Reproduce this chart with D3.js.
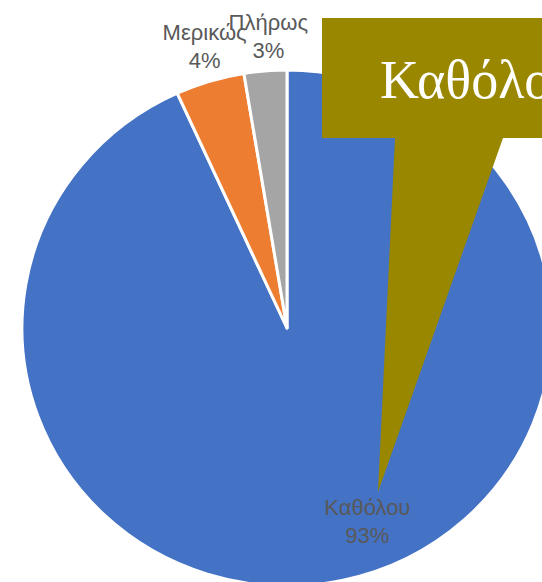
<!DOCTYPE html>
<html lang="el">
<head>
    <meta charset="UTF-8">
    <title>Pie</title>
    <script src="https://d3js.org/d3.v7.min.js"></script>
    <style>
        body { margin: 0; background: #fff; }
        svg { display: block; }
    </style>
</head>
<body>
<script>
    const width = 542;
    const height = 582;

    // data
    const categories = ["Καθόλου", "Μερικώς", "Πλήρως"];
    const values     = [93.2, 4.2, 2.6];
    const colors     = ["#4472C4", "#ED7D31", "#A5A5A5"];

    const cx = 287, cy = 328;
    const radius = 265;
    const squash = 258 / 265;   // picture is slightly flattened

    const svg = d3.select("body").append("svg")
            .attr("width", width).attr("height", height);

    const total = d3.sum(values);
    const slices = d3.pie().sort(null)(values);
    const arc = d3.arc().innerRadius(0).outerRadius(radius);

    const pieG = svg.append("g")
            .attr("transform", `translate(${cx},${cy}) scale(1,${squash})`);

    pieG.selectAll("path")
            .data(slices)
            .enter().append("path")
            .attr("d", arc)
            .style("fill", (d, i) => colors[i])
            .style("stroke", "white")
            .style("stroke-width", 3)
            .style("stroke-linejoin", "round");

    // label positions: small slices outside, big one inside
    function labelPos(d) {
        const inside = d.value / total > 0.5;
        const r = inside ? 212 : 303;
        const a = (d.startAngle + d.endAngle) / 2 + (inside ? -0.175 : 0.02);
        return [cx + r * Math.sin(a), cy - r * Math.cos(a) * squash];
    }

    const pct = v => Math.round(v / total * 100) + "%";

    const labels = svg.selectAll("text.lbl")
            .data(slices)
            .enter().append("text")
            .attr("class", "lbl")
            .attr("text-anchor", "middle")
            .style("font-family", "'Liberation Sans', Arial, sans-serif")
            .style("font-size", "22px")
            .style("fill", "#595959")
            .attr("transform", d => {
                const p = labelPos(d);
                return `translate(${p[0]},${p[1]})`;
            });

    labels.append("tspan").attr("x", 0).attr("y", -4)
            .text((d, i) => categories[i]);
    labels.append("tspan").attr("x", 0).attr("y", 24)
            .text(d => pct(d.value));

    // callout shape
    const callout = [[322, 18], [560, 18], [560, 138], [503, 138],
                     [378, 492], [395, 138], [322, 138]];
    svg.append("path")
            .attr("d", d3.line()(callout) + "Z")
            .style("fill", "#998700");

    svg.append("text")
            .attr("x", 380).attr("y", 98)
            .style("font-family", "'Liberation Serif', 'DejaVu Serif', serif")
            .style("font-size", "54px")
            .style("fill", "white")
            .text(categories[0]);
</script>
</body>
</html>
